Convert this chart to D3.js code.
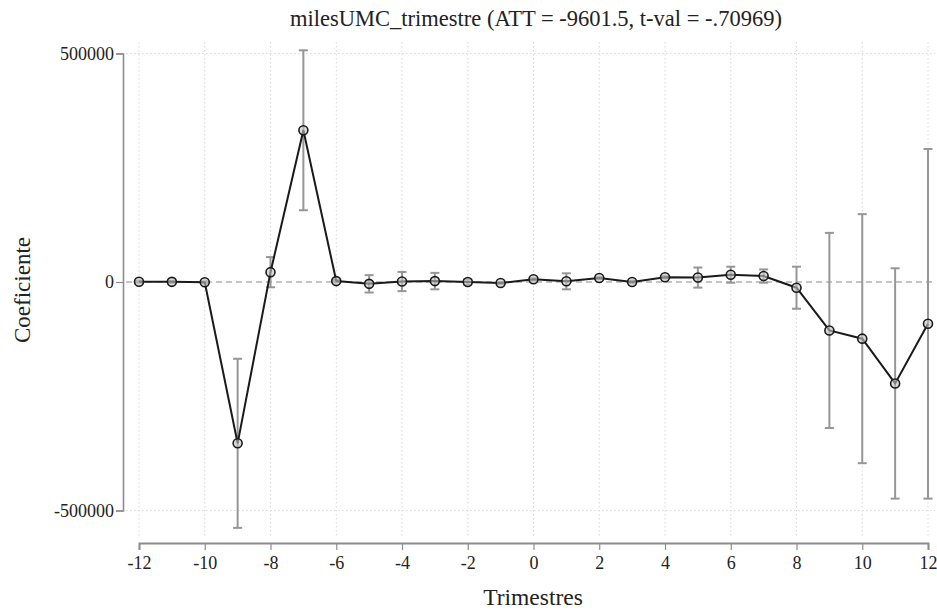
<!DOCTYPE html>
<html>
<head>
<meta charset="utf-8">
<script src="https://cdn.jsdelivr.net/npm/d3@7"></script>
<style>
  html, body { margin: 0; padding: 0; background: #fff; }
  svg { display: block; }
  text { font-family: "Liberation Serif", "Times New Roman", serif; fill: #222; }
</style>
</head>
<body>
<svg id="chart" width="937" height="612"></svg>
<script>
// Event-study coefficients by quarter relative to treatment
const periods = [-12,-11,-10,-9,-8,-7,-6,-5,-4,-3,-2,-1,0,1,2,3,4,5,6,7,8,9,10,11,12];
const coef    = [600,300,-700,-353000,21500,332000,2000,-4000,1000,2000,0,-2200,5900,1500,8700,0,10300,9700,16000,13000,-12500,-106000,-124000,-222000,-91500];
const ciLow   = [-1500,-1800,-2800,-538000,-11500,157000,-500,-23000,-20000,-16000,-6000,-4500,3500,-16000,6500,-2500,8000,-12300,-1500,-1500,-58500,-319500,-396500,-474000,-474000];
const ciHigh  = [2700,2400,1400,-168000,54500,507000,4500,15000,22000,20000,6000,0,8300,19000,11000,2500,12600,31700,33500,27500,33500,107500,148500,30000,291000];

const xTicks = d3.range(-12, 13, 2);
const yTicks = [-500000, 0, 500000];

const title = "milesUMC_trimestre (ATT = -9601.5, t-val = -.70969)";
const xTitle = "Trimestres";
const yTitle = "Coeficiente";

const svg = d3.select("#chart");

const x = d3.scaleLinear().domain([-12, 12]).range([139, 928]);
const y = d3.scaleLinear().domain([-500000, 500000]).range([510.5, 53.5]);

const rows = periods.map((p, i) => ({ p, c: coef[i], lo: ciLow[i], hi: ciHigh[i] }));

// Plain hyphen-minus labels
const fmt = d => String(d);

// Gridlines
const grid = svg.append("g");
grid.selectAll("line.vg").data(xTicks).join("line")
  .attr("x1", d => x(d)).attr("x2", d => x(d))
  .attr("y1", 42).attr("y2", 538)
  .attr("stroke", "#d8d8d8").attr("stroke-width", 1).attr("stroke-dasharray", "1.5,2.5");
grid.selectAll("line.hg").data(yTicks.filter(d => d !== 0)).join("line")
  .attr("x1", 126).attr("x2", 935)
  .attr("y1", d => y(d)).attr("y2", d => y(d))
  .attr("stroke", "#d8d8d8").attr("stroke-width", 1).attr("stroke-dasharray", "1.5,2.5");

// Zero reference line
svg.append("line")
  .attr("x1", 126).attr("x2", 935)
  .attr("y1", y(0)).attr("y2", y(0))
  .attr("stroke", "#8a8a8a").attr("stroke-width", 1.2).attr("stroke-dasharray", "6,4");

// Y axis
const yAxis = svg.append("g").attr("transform", "translate(123,0)")
  .call(d3.axisLeft(y).tickValues(yTicks).tickSize(7).tickPadding(2).tickFormat(fmt));
yAxis.select(".domain").attr("stroke", "#8c8c8c").attr("stroke-width", 1.6);
yAxis.selectAll(".tick line").attr("stroke", "#8c8c8c").attr("stroke-width", 1.2);
yAxis.selectAll(".tick text").attr("font-size", 18).attr("font-family", "Liberation Serif, serif").attr("fill", "#222");

// X axis
const xAxis = svg.append("g").attr("transform", "translate(0,543)")
  .call(d3.axisBottom(x).tickValues(xTicks).tickSize(7).tickPadding(6).tickFormat(fmt));
xAxis.select(".domain").attr("stroke", "#8c8c8c").attr("stroke-width", 2);
xAxis.selectAll(".tick line").attr("stroke", "#8c8c8c").attr("stroke-width", 1.2);
xAxis.selectAll(".tick text").attr("font-size", 18).attr("font-family", "Liberation Serif, serif").attr("fill", "#222");

// Confidence intervals
const ci = svg.append("g").attr("stroke", "#969696").attr("stroke-width", 2);
ci.selectAll("line.v").data(rows).join("line")
  .attr("x1", d => x(d.p)).attr("x2", d => x(d.p))
  .attr("y1", d => y(d.hi)).attr("y2", d => y(d.lo));
ci.selectAll("line.t").data(rows).join("line")
  .attr("x1", d => x(d.p) - 4.5).attr("x2", d => x(d.p) + 4.5)
  .attr("y1", d => y(d.hi)).attr("y2", d => y(d.hi));
ci.selectAll("line.b").data(rows).join("line")
  .attr("x1", d => x(d.p) - 4.5).attr("x2", d => x(d.p) + 4.5)
  .attr("y1", d => y(d.lo)).attr("y2", d => y(d.lo));

// Connected estimates
svg.append("path").datum(rows)
  .attr("fill", "none").attr("stroke", "#1a1a1a").attr("stroke-width", 2)
  .attr("d", d3.line().x(d => x(d.p)).y(d => y(d.c)));

svg.append("g").selectAll("circle").data(rows).join("circle")
  .attr("cx", d => x(d.p)).attr("cy", d => y(d.c)).attr("r", 4.5)
  .attr("fill", "#c4c4c4").attr("fill-opacity", 0.6)
  .attr("stroke", "#1a1a1a").attr("stroke-width", 1.6);

// Titles
svg.append("text").attr("x", 536).attr("y", 26).attr("text-anchor", "middle")
  .attr("font-size", 22.5).text(title);
svg.append("text").attr("x", 533).attr("y", 605).attr("text-anchor", "middle")
  .attr("font-size", 23.5).text(xTitle);
svg.append("text").attr("transform", "translate(30,290) rotate(-90)").attr("text-anchor", "middle")
  .attr("font-size", 23).text(yTitle);
</script>
</body>
</html>
